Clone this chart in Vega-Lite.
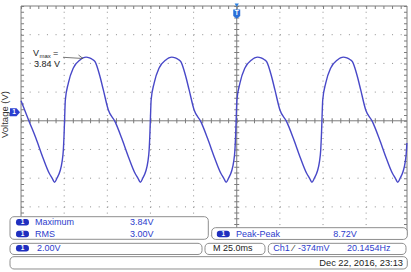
{
  "$schema": "https://vega.github.io/schema/vega-lite/v6.json",
  "width": 397,
  "height": 264,
  "autosize": {"type": "none"},
  "padding": {"left": 10, "top": 6, "right": 4, "bottom": 2},
  "background": "#ffffff",
  "config": {
    "view": {"stroke": null},
    "font": "Liberation Sans",
    "axisX": {"disable": true},
    "axisY": {"labels": false, "ticks": false, "domain": false, "grid": false, "titleFontSize": 9.5, "titleFontWeight": "normal", "titleColor": "#333333", "titleFont": "Liberation Sans"}
  },
  "layer": [
    {
      "data": {"values": [{"t": -100}, {"t": -75}, {"t": -50}, {"t": -25}, {"t": 25}, {"t": 50}, {"t": 75}]},
      "mark": {"type": "rule", "color": "#8e8e8e", "strokeWidth": 1, "strokeDash": [1, 4.739]},
      "encoding": {
        "x": {"field": "t", "type": "quantitative", "scale": {"domain": [-131.4, 98.67], "nice": false, "zero": false}},
        "y": {"datum": 7.4, "type": "quantitative", "scale": {"domain": [-11, 7.4], "nice": false, "zero": false}, "title": "Voltage (V)", "axis": {"titleX": -1, "titleY": 108}},
        "y2": {"datum": -8.6}
      }
    },
    {
      "data": {"values": [{"v": 5.4}, {"v": 3.4}, {"v": 1.4}, {"v": -2.6}, {"v": -4.6}, {"v": -6.6}, {"v": -8.6}]},
      "mark": {"type": "rule", "color": "#8e8e8e", "strokeWidth": 1, "strokeDash": [1, 7.628]},
      "encoding": {
        "x": {"datum": -125, "type": "quantitative"},
        "x2": {"datum": 98.67},
        "y": {"field": "v", "type": "quantitative", "title": "Voltage (V)"}
      }
    },
    {
      "data": {"values": [{}]},
      "mark": {"type": "rule", "color": "#7c7c7c", "strokeWidth": 1},
      "encoding": {
        "x": {"datum": 0, "type": "quantitative"},
        "y": {"datum": 7.4, "type": "quantitative", "title": "Voltage (V)"},
        "y2": {"datum": -8.6}
      }
    },
    {
      "data": {"values": [{}]},
      "mark": {"type": "rule", "color": "#7c7c7c", "strokeWidth": 5, "strokeDash": [1, 4.739]},
      "encoding": {
        "x": {"datum": 0, "type": "quantitative"},
        "y": {"datum": 7.4, "type": "quantitative", "title": "Voltage (V)"},
        "y2": {"datum": -8.6}
      }
    },
    {
      "data": {"values": [{}]},
      "mark": {"type": "rule", "color": "#7c7c7c", "strokeWidth": 1},
      "encoding": {
        "x": {"datum": -125, "type": "quantitative"},
        "x2": {"datum": 98.67},
        "y": {"datum": -0.6, "type": "quantitative", "title": "Voltage (V)"}
      }
    },
    {
      "data": {"values": [{}]},
      "mark": {"type": "rule", "color": "#7c7c7c", "strokeWidth": 5, "strokeDash": [1, 7.628]},
      "encoding": {
        "x": {"datum": -125, "type": "quantitative"},
        "x2": {"datum": 98.67},
        "y": {"datum": -0.6, "type": "quantitative", "title": "Voltage (V)"}
      }
    },
    {
      "data": {"values": [{}]},
      "mark": {"type": "rule", "color": "#7c7c7c", "strokeWidth": 1},
      "encoding": {
        "x": {"datum": -125, "type": "quantitative"},
        "x2": {"datum": 98.67},
        "y": {"datum": 7.4, "type": "quantitative", "title": "Voltage (V)"}
      }
    },
    {
      "data": {"values": [{}]},
      "mark": {"type": "rule", "color": "#7c7c7c", "strokeWidth": 3, "yOffset": 1.5, "strokeDash": [1, 7.628]},
      "encoding": {
        "x": {"datum": -125, "type": "quantitative"},
        "x2": {"datum": 98.67},
        "y": {"datum": 7.4, "type": "quantitative", "title": "Voltage (V)"}
      }
    },
    {
      "data": {"values": [{"t": -125}, {"t": 98.67}]},
      "mark": {"type": "rule", "color": "#7c7c7c", "strokeWidth": 1},
      "encoding": {
        "x": {"field": "t", "type": "quantitative"},
        "y": {"datum": 7.4, "type": "quantitative", "title": "Voltage (V)"},
        "y2": {"datum": -8.6}
      }
    },
    {
      "data": {"values": [{}]},
      "mark": {"type": "rule", "color": "#7c7c7c", "strokeWidth": 3, "xOffset": 1.5, "strokeDash": [1, 4.739]},
      "encoding": {
        "x": {"datum": -125, "type": "quantitative"},
        "y": {"datum": 7.4, "type": "quantitative", "title": "Voltage (V)"},
        "y2": {"datum": -8.6}
      }
    },
    {
      "data": {"values": [{}]},
      "mark": {"type": "rule", "color": "#7c7c7c", "strokeWidth": 3, "xOffset": -1.5, "strokeDash": [1, 4.739]},
      "encoding": {
        "x": {"datum": 98.67, "type": "quantitative"},
        "y": {"datum": 7.4, "type": "quantitative", "title": "Voltage (V)"},
        "y2": {"datum": -8.6}
      }
    },
    {
      "data": {"values": [
        {"t": -125, "v": 0.8}, {"t": -120.25, "v": -0.66}, {"t": -116.37, "v": -1.82}, {"t": -112.54, "v": -3.10}, {"t": -108.66, "v": -4.26}, {"t": -106.92, "v": -4.61},
        {"t": -105.59, "v": -4.88}, {"t": -104.14, "v": -4.59}, {"t": -102.40, "v": -4.10}, {"t": -101.24, "v": -3.47}, {"t": -100.49, "v": -2.64}, {"t": -100.03, "v": -1.45}, {"t": -99.68, "v": -0.20}, {"t": -99.33, "v": 0.85}, {"t": -97.59, "v": 2.03}, {"t": -94.70, "v": 3.08}, {"t": -90.81, "v": 3.64}, {"t": -89.07, "v": 3.78}, {"t": -87.34, "v": 3.84}, {"t": -85.31, "v": 3.78}, {"t": -83.57, "v": 3.67}, {"t": -82.12, "v": 3.52}, {"t": -79.22, "v": 2.47}, {"t": -77.31, "v": 1.55}, {"t": -74.41, "v": 0.15}, {"t": -70.53, "v": -0.66}, {"t": -66.65, "v": -1.82}, {"t": -62.82, "v": -3.10}, {"t": -58.94, "v": -4.26}, {"t": -57.20, "v": -4.61},
        {"t": -55.87, "v": -4.88}, {"t": -54.42, "v": -4.59}, {"t": -52.68, "v": -4.10}, {"t": -51.52, "v": -3.47}, {"t": -50.77, "v": -2.64}, {"t": -50.31, "v": -1.45}, {"t": -49.96, "v": -0.20}, {"t": -49.61, "v": 0.85}, {"t": -47.87, "v": 2.03}, {"t": -44.98, "v": 3.08}, {"t": -41.09, "v": 3.64}, {"t": -39.35, "v": 3.78}, {"t": -37.62, "v": 3.84}, {"t": -35.59, "v": 3.78}, {"t": -33.85, "v": 3.67}, {"t": -32.40, "v": 3.52}, {"t": -29.50, "v": 2.47}, {"t": -27.59, "v": 1.55}, {"t": -24.69, "v": 0.15}, {"t": -20.81, "v": -0.66}, {"t": -16.93, "v": -1.82}, {"t": -13.10, "v": -3.10}, {"t": -9.22, "v": -4.26}, {"t": -7.48, "v": -4.61},
        {"t": -6.15, "v": -4.88}, {"t": -4.70, "v": -4.59}, {"t": -2.96, "v": -4.10}, {"t": -1.80, "v": -3.47}, {"t": -1.05, "v": -2.64}, {"t": -0.59, "v": -1.45}, {"t": -0.24, "v": -0.20}, {"t": 0.11, "v": 0.85}, {"t": 1.85, "v": 2.03}, {"t": 4.74, "v": 3.08}, {"t": 8.63, "v": 3.64}, {"t": 10.37, "v": 3.78}, {"t": 12.10, "v": 3.84}, {"t": 14.13, "v": 3.78}, {"t": 15.87, "v": 3.67}, {"t": 17.32, "v": 3.52}, {"t": 20.22, "v": 2.47}, {"t": 22.13, "v": 1.55}, {"t": 25.03, "v": 0.15}, {"t": 28.91, "v": -0.66}, {"t": 32.79, "v": -1.82}, {"t": 36.62, "v": -3.10}, {"t": 40.50, "v": -4.26}, {"t": 42.24, "v": -4.61},
        {"t": 43.57, "v": -4.88}, {"t": 45.02, "v": -4.59}, {"t": 46.76, "v": -4.10}, {"t": 47.92, "v": -3.47}, {"t": 48.67, "v": -2.64}, {"t": 49.13, "v": -1.45}, {"t": 49.48, "v": -0.20}, {"t": 49.83, "v": 0.85}, {"t": 51.57, "v": 2.03}, {"t": 54.46, "v": 3.08}, {"t": 58.35, "v": 3.64}, {"t": 60.09, "v": 3.78}, {"t": 61.82, "v": 3.84}, {"t": 63.85, "v": 3.78}, {"t": 65.59, "v": 3.67}, {"t": 67.04, "v": 3.52}, {"t": 69.94, "v": 2.47}, {"t": 71.85, "v": 1.55}, {"t": 74.75, "v": 0.15}, {"t": 78.63, "v": -0.66}, {"t": 82.51, "v": -1.82}, {"t": 86.34, "v": -3.10}, {"t": 90.22, "v": -4.26}, {"t": 91.96, "v": -4.61},
        {"t": 93.29, "v": -4.88}, {"t": 94.74, "v": -4.59}, {"t": 96.48, "v": -4.10}, {"t": 97.64, "v": -3.47}, {"t": 98.39, "v": -2.64}, {"t": 98.6, "v": -2.15}
      ]},
      "mark": {"type": "line", "color": "#4848c8", "strokeWidth": 1.4, "interpolate": "monotone"},
      "encoding": {
        "x": {"field": "t", "type": "quantitative"},
        "y": {"field": "v", "type": "quantitative", "title": "Voltage (V)"}
      }
    },
    {
      "data": {"values": [{"t": -128.5, "v": 0}]},
      "mark": {"type": "point", "filled": true, "shape": "M-1,-0.8 L0.3,-0.8 L1,0 L0.3,0.8 L-1,0.8 Z", "size": 100, "color": "#2a3fd0", "opacity": 1},
      "encoding": {
        "x": {"field": "t", "type": "quantitative"},
        "y": {"field": "v", "type": "quantitative", "title": "Voltage (V)"}
      }
    },
    {
      "data": {"values": [{"t": -128.5, "v": 0, "s": "1"}]},
      "mark": {"type": "text", "color": "#ffffff", "fontSize": 6.5, "fontWeight": "bold", "dx": -1, "baseline": "middle"},
      "encoding": {
        "x": {"field": "t", "type": "quantitative"},
        "y": {"field": "v", "type": "quantitative", "title": "Voltage (V)"},
        "text": {"field": "s"}
      }
    },
    {
      "data": {"values": [{"t": 0, "v": 7.45}]},
      "mark": {"type": "point", "filled": true, "shape": "triangle-down", "size": 18, "color": "#2a7fe0", "opacity": 1},
      "encoding": {
        "x": {"field": "t", "type": "quantitative"},
        "y": {"field": "v", "type": "quantitative", "title": "Voltage (V)"}
      }
    },
    {
      "data": {"values": [{"t": 0, "v": 6.84}]},
      "mark": {"type": "point", "filled": true, "shape": "M-0.9,-1.2 L0.9,-1.2 L0.9,0.5 L0,1.2 L-0.9,0.5 Z", "size": 60, "color": "#2a6fd8", "opacity": 1},
      "encoding": {
        "x": {"field": "t", "type": "quantitative"},
        "y": {"field": "v", "type": "quantitative", "title": "Voltage (V)"}
      }
    },
    {
      "data": {"values": [{"t": 0, "v": 6.9, "s": "T"}]},
      "mark": {"type": "text", "color": "#ffffff", "fontSize": 6.5, "fontWeight": "bold", "baseline": "middle"},
      "encoding": {
        "x": {"field": "t", "type": "quantitative"},
        "y": {"field": "v", "type": "quantitative", "title": "Voltage (V)"},
        "text": {"field": "s"}
      }
    },
    {
      "data": {"values": [{"t": -118.07, "v": 4.145, "s": "V"}, {"t": -106.48, "v": 4.145, "s": "="}, {"t": -117.49, "v": 3.337, "s": "3.84 V"}]},
      "mark": {"type": "text", "color": "#222222", "fontSize": 9, "align": "left", "baseline": "middle"},
      "encoding": {
        "x": {"field": "t", "type": "quantitative"},
        "y": {"field": "v", "type": "quantitative", "title": "Voltage (V)"},
        "text": {"field": "s"}
      }
    },
    {
      "data": {"values": [{"t": -114.3, "v": 3.93, "s": "max"}]},
      "mark": {"type": "text", "color": "#222222", "fontSize": 6, "align": "left", "baseline": "middle"},
      "encoding": {
        "x": {"field": "t", "type": "quantitative"},
        "y": {"field": "v", "type": "quantitative", "title": "Voltage (V)"},
        "text": {"field": "s"}
      }
    },
    {
      "data": {"values": [{"t": -100.69, "v": 3.825, "t2": -89.1, "v2": 3.741}, {"t": -91.7, "v": 3.985, "t2": -89.1, "v2": 3.741}]},
      "mark": {"type": "rule", "color": "#555555", "strokeWidth": 0.8},
      "encoding": {
        "x": {"field": "t", "type": "quantitative"},
        "x2": {"field": "t2"},
        "y": {"field": "v", "type": "quantitative", "title": "Voltage (V)"},
        "y2": {"field": "v2"}
      }
    },
    {
      "data": {"values": [
        {"t": -131.4, "t2": -16.48, "v": -7.285, "v2": -8.86},
        {"t": -14.51, "t2": 98.84, "v": -8.05, "v2": -8.87},
        {"t": -131.4, "t2": -20.13, "v": -9.14, "v2": -9.92},
        {"t": -18.4, "t2": 16.38, "v": -9.14, "v2": -9.92},
        {"t": 18.29, "t2": 98.09, "v": -9.14, "v2": -9.92},
        {"t": -131.4, "t2": 98.84, "v": -10.07, "v2": -10.93}
      ]},
      "mark": {"type": "rect", "fill": "#ffffff", "stroke": "#8e8e8e", "strokeWidth": 1, "cornerRadius": 4},
      "encoding": {
        "x": {"field": "t", "type": "quantitative"},
        "x2": {"field": "t2"},
        "y": {"field": "v", "type": "quantitative", "title": "Voltage (V)"},
        "y2": {"field": "v2"}
      }
    },
    {
      "data": {"values": [{"t": -124.16, "v": -7.675}, {"t": -124.16, "v": -8.491}, {"t": -7.79, "v": -8.491}, {"t": -124.16, "v": -9.487}]},
      "mark": {"type": "point", "filled": true, "shape": "M-0.6,-0.5 L0.6,-0.5 L0.85,-0.43 L0.97,-0.25 L1,0 L0.97,0.25 L0.85,0.43 L0.6,0.5 L-0.6,0.5 L-0.85,0.43 L-0.97,0.25 L-1,0 L-0.97,-0.25 L-0.85,-0.43 Z", "size": 169, "color": "#1f2fbf", "opacity": 1},
      "encoding": {
        "x": {"field": "t", "type": "quantitative"},
        "y": {"field": "v", "type": "quantitative", "title": "Voltage (V)"}
      }
    },
    {
      "data": {"values": [{"t": -124.16, "v": -7.675, "s": "1"}, {"t": -124.16, "v": -8.491, "s": "1"}, {"t": -7.79, "v": -8.491, "s": "1"}, {"t": -124.16, "v": -9.487, "s": "1"}]},
      "mark": {"type": "text", "color": "#ffffff", "fontSize": 6.5, "fontWeight": "bold", "baseline": "middle"},
      "encoding": {
        "x": {"field": "t", "type": "quantitative"},
        "y": {"field": "v", "type": "quantitative", "title": "Voltage (V)"},
        "text": {"field": "s"}
      }
    },
    {
      "data": {"values": [
        {"t": -116.91, "v": -7.675, "s": "Maximum"},
        {"t": -61.86, "v": -7.675, "s": "3.84V"},
        {"t": -116.91, "v": -8.491, "s": "RMS"},
        {"t": -61.86, "v": -8.491, "s": "3.00V"},
        {"t": -0.43, "v": -8.491, "s": "Peak-Peak"},
        {"t": 55.97, "v": -8.491, "s": "8.72V"},
        {"t": -115.75, "v": -9.487, "s": "2.00V"},
        {"t": 21.18, "v": -9.487, "s": "Ch1"},
        {"t": 35.5, "v": -9.487, "s": "-374mV"},
        {"t": 63.89, "v": -9.487, "s": "20.1454Hz"}
      ]},
      "mark": {"type": "text", "color": "#2d3ccc", "fontSize": 9, "align": "left", "baseline": "middle"},
      "encoding": {
        "x": {"field": "t", "type": "quantitative"},
        "y": {"field": "v", "type": "quantitative", "title": "Voltage (V)"},
        "text": {"field": "s"}
      }
    },
    {
      "data": {"values": [{"t": -13.76, "v": -9.487, "s": "M 25.0ms"}, {"t": 32.4, "v": -9.487, "s": "⁄"}]},
      "mark": {"type": "text", "color": "#222222", "fontSize": 9, "align": "left", "baseline": "middle"},
      "encoding": {
        "x": {"field": "t", "type": "quantitative"},
        "y": {"field": "v", "type": "quantitative", "title": "Voltage (V)"},
        "text": {"field": "s"}
      }
    },
    {
      "data": {"values": [{"t": 96.35, "v": -10.512, "s": "Dec 22, 2016, 23:13"}]},
      "mark": {"type": "text", "color": "#222222", "fontSize": 9.3, "align": "right", "baseline": "middle"},
      "encoding": {
        "x": {"field": "t", "type": "quantitative"},
        "y": {"field": "v", "type": "quantitative", "title": "Voltage (V)"},
        "text": {"field": "s"}
      }
    }
  ]
}
